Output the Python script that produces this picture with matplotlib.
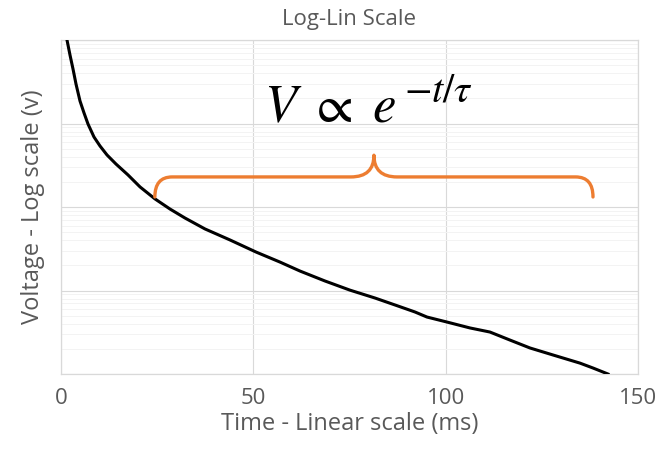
"""Log-Lin: decaimiento de voltaje en escala semilogaritmica."""

import numpy as np
import matplotlib.pyplot as plt
from matplotlib.path import Path
from matplotlib.patches import PathPatch

# --- Datos ---
tiempo_ms = [1.56, 2.34, 3.12, 3.90, 4.94, 5.98, 7.02, 8.58, 10.14, 11.96,
             14.30, 17.42, 20.54, 24.43, 28.33, 32.23, 37.43, 43.93, 50.69,
             56.93, 62.13, 68.62, 75.12, 81.62, 87.60, 92.02, 95.14, 100.34,
             106.32, 111.52, 116.71, 121.91, 127.89, 134.91, 138.29, 142.19]
voltaje = [100, 66.1, 45.0, 29.7, 18.6, 13.4, 9.86, 6.89, 5.38, 4.20,
           3.27, 2.42, 1.74, 1.25, 0.946, 0.738, 0.546, 0.403, 0.289,
           0.219, 0.171, 0.130, 0.101, 0.0813, 0.0652, 0.0553, 0.0481, 0.0419,
           0.0356, 0.0318, 0.0255, 0.0205, 0.0169, 0.0135, 0.0118, 0.0100]
x_ticks = [0, 50, 100, 150]

# llave naranja (en fraccion de ejes)
llave_x0, llave_x1 = 24.4 / 150, 138.3 / 150
llave_y_punta, llave_y_plana, llave_y_pico = 0.53, 0.59, 0.655

GRIS = '#595959'
plt.rcParams['font.family'] = ['Open Sans', 'DejaVu Sans']
plt.rcParams['mathtext.fontset'] = 'stix'

fig = plt.figure(figsize=(6.72, 4.59), dpi=100)
ax = fig.add_axes([61 / 672, 1 - 374 / 459, 577 / 672, 334 / 459])

ax.semilogy(tiempo_ms, voltaje, color='black', lw=2.2, zorder=3,
            solid_joinstyle='round')
ax.set_xlim(0, 150)
ax.set_ylim(0.01, 100)
ax.set_xticks(x_ticks)
ax.set_yticks([0.01, 0.1, 1, 10, 100])
ax.set_yticklabels([])
ax.tick_params(axis='both', which='both', length=0, colors=GRIS, labelsize=16)
ax.tick_params(axis='x', pad=10)
ax.tick_params(axis='y', which='minor', labelleft=False)

ax.grid(True, which='major', color='#d9d9d9', lw=0.8)
ax.grid(True, which='minor', axis='y', color='#f3f3f3', lw=0.7)
for s in ax.spines.values():
    s.set_color('#d9d9d9')
    s.set_linewidth(0.9)

ax.set_title('Log-Lin Scale', color=GRIS, fontsize=16, pad=11)
ax.set_xlabel('Time - Linear scale (ms)', color=GRIS, fontsize=17, labelpad=2)
ax.set_ylabel('Voltage - Log scale (v)', color=GRIS, fontsize=17, labelpad=8)

# ecuacion: base y exponente por separado para agrandar el exponente
ax.text(0.352, 0.754, r'$V\ \propto\ e$', transform=ax.transAxes,
        fontsize=38, color='black', ha='left', va='baseline')
ax.text(0.595, 0.815, r'$-t/\tau$', transform=ax.transAxes,
        fontsize=29, color='black', ha='left', va='baseline')

# llave
xm = (llave_x0 + llave_x1) / 2
rx, cx = 0.03, 0.04
verts = [
    (llave_x0, llave_y_punta),
    (llave_x0, llave_y_plana), (llave_x0 + rx, llave_y_plana),
    (xm - cx, llave_y_plana),
    (xm, llave_y_plana), (xm, llave_y_pico),
    (xm, llave_y_plana), (xm + cx, llave_y_plana),
    (llave_x1 - rx, llave_y_plana),
    (llave_x1, llave_y_plana), (llave_x1, llave_y_punta),
]
codes = [Path.MOVETO, Path.CURVE3, Path.CURVE3, Path.LINETO,
         Path.CURVE3, Path.CURVE3, Path.CURVE3, Path.CURVE3,
         Path.LINETO, Path.CURVE3, Path.CURVE3]
ax.add_patch(PathPatch(Path(verts, codes), transform=ax.transAxes,
                       fill=False, edgecolor='#ED7D31', lw=2.4,
                       capstyle='round', joinstyle='round', zorder=4))

plt.savefig('out.png', dpi=100)
